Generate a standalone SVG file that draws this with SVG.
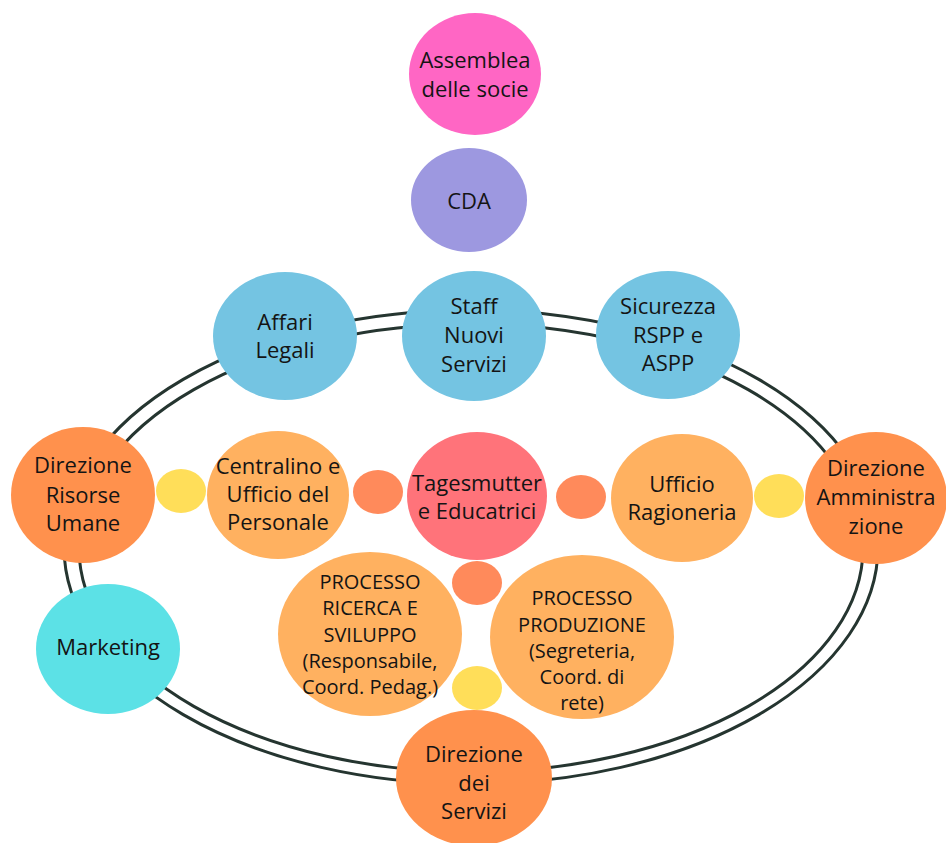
<svg xmlns="http://www.w3.org/2000/svg" width="946" height="843" viewBox="0 0 946 843">
<style>
text{font-family:"Open Sans","Noto Sans","Liberation Sans",sans-serif;fill:#141414;text-anchor:middle;font-size:22px}
.s{font-size:20px}
.ring{fill:none;stroke:#253530;stroke-width:3}
.pink{fill:#ff66c4}.lav{fill:#9d98e0}.blue{fill:#74c4e2}.dor{fill:#ff914d}.lor{fill:#ffb160}
.tag{fill:#ff737a}.sor{fill:#ff8a5b}.yel{fill:#ffde59}.cyan{fill:#5ce1e6}
</style>
<rect width="946" height="843" fill="#fff"/>
<g id="connectors">
<ellipse class="ring" cx="471" cy="547" rx="407" ry="237"/>
<ellipse class="ring" cx="471" cy="548" rx="392" ry="224"/>
</g>
<g id="assemblea"><ellipse class="pink" cx="475" cy="74" rx="66" ry="61"/><text x="475" y="68">Assemblea</text><text x="475" y="97">delle socie</text></g>
<g id="cda"><ellipse class="lav" cx="469" cy="200" rx="58" ry="52"/><text x="469" y="209">CDA</text></g>
<g id="affari-legali"><ellipse class="blue" cx="285" cy="336" rx="72" ry="64"/><text x="285" y="330">Affari</text><text x="285" y="358">Legali</text></g>
<g id="staff"><ellipse class="blue" cx="474" cy="336" rx="72" ry="65"/><text x="474" y="314">Staff</text><text x="474" y="343">Nuovi</text><text x="474" y="372">Servizi</text></g>
<g id="sicurezza"><ellipse class="blue" cx="668" cy="335" rx="72" ry="64"/><text x="668" y="314">Sicurezza</text><text x="668" y="343">RSPP e</text><text x="668" y="371">ASPP</text></g>
<g id="dir-risorse-umane"><ellipse class="dor" cx="83" cy="495" rx="72" ry="68"/><text x="83" y="473">Direzione</text><text x="83" y="503">Risorse</text><text x="83" y="531">Umane</text></g>
<g id="dot-y1"><ellipse class="yel" cx="181" cy="491" rx="25" ry="22"/></g>
<g id="centralino"><ellipse class="lor" cx="278" cy="495" rx="71" ry="64"/><text x="278" y="474">Centralino e</text><text x="278" y="502">Ufficio del</text><text x="278" y="530">Personale</text></g>
<g id="dot-o1"><ellipse class="sor" cx="378" cy="492" rx="25" ry="22"/></g>
<g id="tagesmutter"><ellipse class="tag" cx="477" cy="496" rx="70" ry="64"/><text x="477" y="491">Tagesmutter</text><text x="477" y="519">e Educatrici</text></g>
<g id="dot-o2"><ellipse class="sor" cx="581" cy="497" rx="25" ry="22"/></g>
<g id="ragioneria"><ellipse class="lor" cx="682" cy="498" rx="71" ry="64"/><text x="682" y="492">Ufficio</text><text x="682" y="520">Ragioneria</text></g>
<g id="dot-y2"><ellipse class="yel" cx="779" cy="496" rx="25" ry="22"/></g>
<g id="dir-amministrazione"><ellipse class="dor" cx="876" cy="498" rx="71" ry="66"/><text x="876" y="476">Direzione</text><text x="876" y="505">Amministra</text><text x="876" y="534">zione</text></g>
<g id="dot-o3"><ellipse class="sor" cx="477" cy="583" rx="25" ry="22"/></g>
<g id="ricerca"><ellipse class="lor" cx="370" cy="634" rx="92" ry="82"/><text class="s" x="370" y="589">PROCESSO</text><text class="s" x="370" y="615">RICERCA E</text><text class="s" x="370" y="642">SVILUPPO</text><text class="s" x="370" y="668">(Responsabile,</text><text class="s" x="370" y="694">Coord. Pedag.)</text></g>
<g id="produzione"><ellipse class="lor" cx="582" cy="637" rx="92" ry="82"/><text class="s" x="582" y="605">PROCESSO</text><text class="s" x="582" y="632">PRODUZIONE</text><text class="s" x="582" y="658">(Segreteria,</text><text class="s" x="582" y="684">Coord. di</text><text class="s" x="582" y="710">rete)</text></g>
<g id="dot-y3"><ellipse class="yel" cx="477" cy="688" rx="25" ry="22"/></g>
<g id="marketing"><ellipse class="cyan" cx="108" cy="649" rx="72" ry="65"/><text x="108" y="655">Marketing</text></g>
<g id="dir-servizi"><ellipse class="dor" cx="474" cy="778" rx="78" ry="68"/><text x="474" y="762">Direzione</text><text x="474" y="791">dei</text><text x="474" y="819">Servizi</text></g>
</svg>
